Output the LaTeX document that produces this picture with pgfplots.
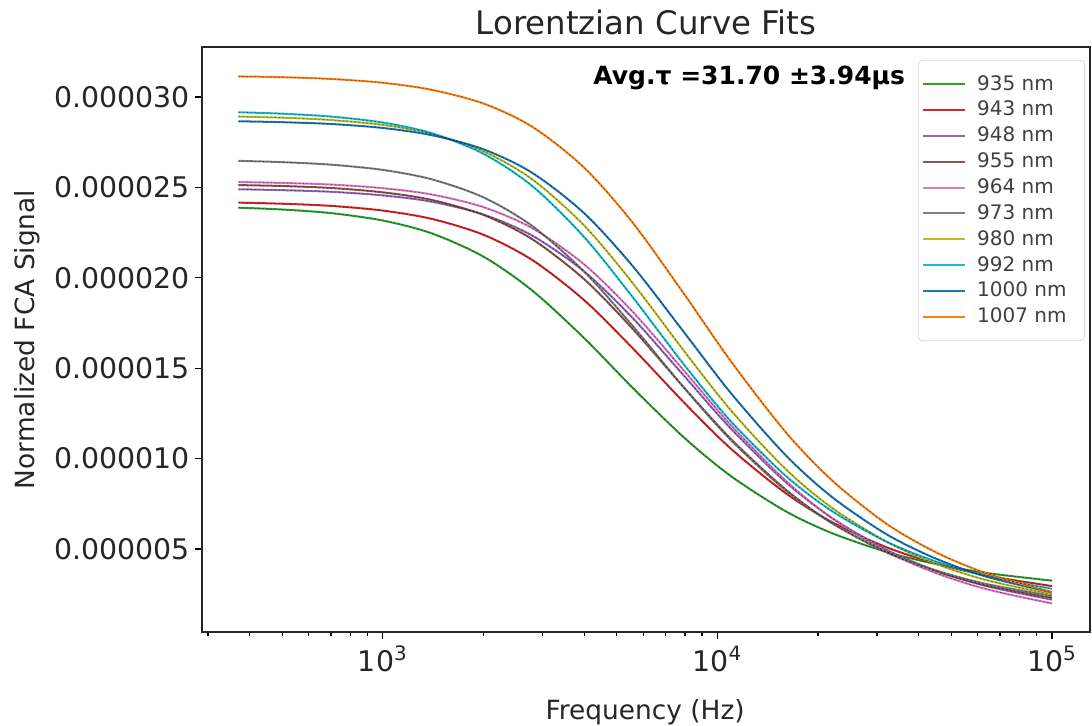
\documentclass[border=0pt]{standalone}
\usepackage{pgfplots}
\pgfplotsset{compat=1.18}
\usepackage{pgfplotstable}
\usepackage{fontspec}
\setmainfont{DejaVu Sans}
\definecolor{tabblue}{HTML}{1F77B4}
\definecolor{taborange}{HTML}{FF7F0E}
\definecolor{tabgreen}{HTML}{2CA02C}
\definecolor{tabred}{HTML}{D62728}
\definecolor{tabpurple}{HTML}{9467BD}
\definecolor{tabbrown}{HTML}{8C564B}
\definecolor{tabpink}{HTML}{E377C2}
\definecolor{tabgray}{HTML}{7F7F7F}
\definecolor{tabolive}{HTML}{BCBD22}
\definecolor{tabcyan}{HTML}{17BECF}
% values in units of 1e-6
\pgfplotstableread{
f      n935  n943  n948  n955  n964  n973  n980  n992  n1000 n1007
370    23.88 24.16 24.90 25.13 25.30 26.47 28.92 29.16 28.66 31.14
500    23.78 24.10 24.85 25.08 25.25 26.40 28.86 29.08 28.61 31.10
700    23.58 23.98 24.76 24.97 25.16 26.26 28.73 28.92 28.51 31.00
1000   23.17 23.72 24.56 24.73 24.96 25.97 28.46 28.59 28.29 30.79
1400   22.46 23.26 24.21 24.31 24.61 25.45 27.97 28.00 27.89 30.40
2000   21.17 22.38 23.50 23.48 23.91 24.45 27.00 26.86 27.11 29.64
2800   19.29 20.98 22.33 22.13 22.74 22.86 25.44 25.07 25.80 28.35
4000   16.66 18.76 20.35 19.92 20.74 20.34 22.89 22.25 23.57 26.09
5600   13.89 16.08 17.75 17.15 18.10 17.31 19.68 18.90 20.62 23.02
8000   11.12 13.05 14.52 13.87 14.80 13.86 15.89 15.13 16.92 19.04
11000  9.02  10.53 11.64 11.07 11.83 11.01 12.65 12.04 13.60 15.36
16000  7.09  8.09  8.70  8.29  8.78  8.24  9.42  9.05  10.19 11.47
22000  5.88  6.49  6.72  6.44  6.71  6.43  7.28  7.10  7.88  8.80
32000  4.84  5.10  4.96  4.82  4.87  4.85  5.41  5.41  5.82  6.40
45000  4.17  4.20  3.80  3.76  3.67  3.82  4.18  4.31  4.47  4.82
64000  3.67  3.53  2.94  2.98  2.77  3.06  3.27  3.49  3.46  3.64
100000 3.25  2.95  2.20  2.30  1.99  2.41  2.49  2.80  2.60  2.62
}\fits
\begin{document}
\begin{tikzpicture}
\begin{axis}[
  scale only axis, width=444pt, height=292.5pt,
  xmode=log, xmin=288, xmax=130000,
  ymin=0.41, ymax=32.77,
  xtick={1000,10000,100000},
  xticklabels={10\textsuperscript{3},10\textsuperscript{4},10\textsuperscript{5}},
  minor xtick={300,400,500,600,700,800,900,2000,3000,4000,5000,6000,7000,8000,9000,20000,30000,40000,50000,60000,70000,80000,90000},
  ytick={5,10,15,20,25,30},
  yticklabels={0.000005,0.000010,0.000015,0.000020,0.000025,0.000030},
  tick align=outside, tick pos=left,
  major tick length=3.5pt, minor tick length=2pt,
  every tick/.style={black, line width=0.6pt},
  axis line style={line width=0.8pt, black!85},
  ticklabel style={font=\fontsize{14.2}{16}\selectfont, text=black!85},
  yticklabel style={xshift=1pt},
  title={Lorentzian Curve Fits},
  title style={font=\fontsize{16.2}{19}\selectfont, text=black!85, at={(axis description cs:0.5,1.0222)}, anchor=center},
  xlabel={Frequency (Hz)}, ylabel={Normalized FCA Signal},
  label style={font=\fontsize{13.2}{15}\selectfont, text=black!85},
  xlabel style={at={(axis description cs:0.499,-0.1333)}, anchor=center, yshift=-1pt},
  ylabel style={at={(axis description cs:-0.197,0.5)}, anchor=center},
  legend style={at={(0.9944,0.978)}, anchor=north east, draw=black!15,
    rounded corners=2pt, fill=white, font=\fontsize{10}{12}\selectfont,
    text=black!75, row sep=0pt, inner xsep=2pt, inner ysep=5.5pt},
  legend cell align=left,
  legend image code/.code={\draw[#1, line width=1pt] (0pt,0pt) -- (21pt,0pt); \path (24.5pt,0pt);},
  every axis plot/.append style={line width=1pt},
]
\addplot[tabgreen, smooth] table[x=f, y=n935] {\fits};
\addlegendentry{935 nm\hspace*{5pt}}
\addplot[tabred, smooth] table[x=f, y=n943] {\fits};
\addlegendentry{943 nm\hspace*{5pt}}
\addplot[tabpurple, smooth] table[x=f, y=n948] {\fits};
\addlegendentry{948 nm\hspace*{5pt}}
\addplot[tabbrown, smooth] table[x=f, y=n955] {\fits};
\addlegendentry{955 nm\hspace*{5pt}}
\addplot[tabpink, smooth] table[x=f, y=n964] {\fits};
\addlegendentry{964 nm\hspace*{5pt}}
\addplot[tabgray, smooth] table[x=f, y=n973] {\fits};
\addlegendentry{973 nm\hspace*{5pt}}
\addplot[tabolive, smooth] table[x=f, y=n980] {\fits};
\addlegendentry{980 nm\hspace*{5pt}}
\addplot[tabcyan, smooth] table[x=f, y=n992] {\fits};
\addlegendentry{992 nm\hspace*{5pt}}
\addplot[tabblue, smooth] table[x=f, y=n1000] {\fits};
\addlegendentry{1000 nm\hspace*{5pt}}
\addplot[taborange, smooth] table[x=f, y=n1007] {\fits};
\addlegendentry{1007 nm\hspace*{5pt}}
% thin dotted overlay (measured-data look)
\pgfplotsinvokeforeach{n935,n943,n948,n955,n964,n973,n980,n992,n1000,n1007}{
  \addplot[black, densely dotted, line width=0.35pt, opacity=0.45, smooth, forget plot] table[x=f, y=#1] {\fits};
}
\node[anchor=east, font=\bfseries\fontsize{12.5}{15}\selectfont] at (rel axis cs:0.7995,0.947) {Avg.τ =31.70 ±3.94µs};
\end{axis}
\pgfresetboundingbox
\path[use as bounding box] (current axis.south west) ++(-101pt,-47pt) rectangle ++(546pt,363pt);
\end{tikzpicture}
\end{document}
